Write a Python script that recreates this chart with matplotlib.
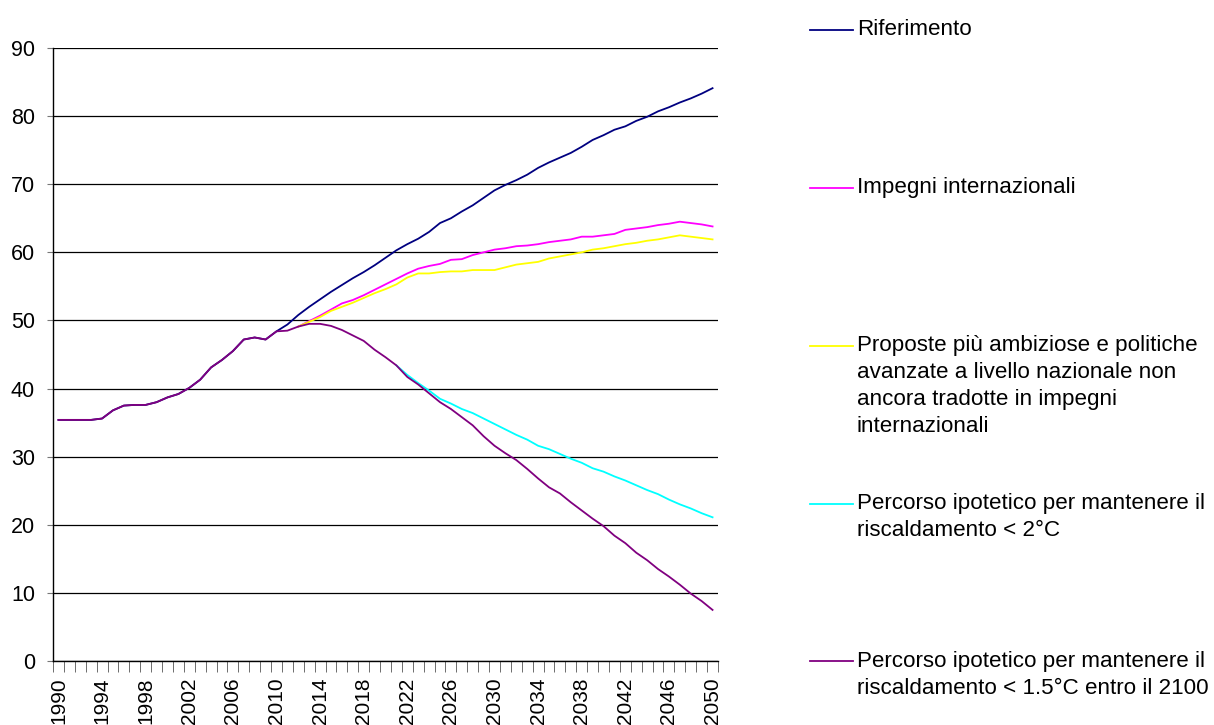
import matplotlib
matplotlib.use('Agg')
from matplotlib import pyplot as plt
from matplotlib.lines import Line2D

plt.rcParams['font.family'] = ['Liberation Sans', 'DejaVu Sans']

years = list(range(1990, 2051))

# storico comune 1990-2010
history = [35.4, 35.4, 35.4, 35.4, 35.6, 36.8, 37.5, 37.6, 37.6, 38.0,
           38.7, 39.2, 40.1, 41.3, 43.1, 44.2, 45.5, 47.2, 47.5, 47.2,
           48.4]

riferimento = history + [
    49.4, 50.8, 52.0, 53.1, 54.2, 55.2, 56.2, 57.1, 58.1, 59.2,
    60.3, 61.2, 62.0, 63.0, 64.3, 65.0, 66.0, 66.9, 68.0, 69.1,
    69.9, 70.6, 71.4, 72.4, 73.2, 73.9, 74.6, 75.5, 76.5, 77.2,
    78.0, 78.5, 79.3, 79.9, 80.7, 81.3, 82.0, 82.6, 83.3, 84.1]

# scenario 1.5 gradi (include storico fino al 2012)
percorso_15 = history + [
    48.5, 49.1, 49.5, 49.5, 49.2, 48.6, 47.8, 47.0, 45.7, 44.6,
    43.4, 41.7, 40.6, 39.3, 38.0, 37.0, 35.8, 34.6, 33.0, 31.6,
    30.5, 29.5, 28.2, 26.8, 25.5, 24.6, 23.3, 22.1, 20.9, 19.8,
    18.4, 17.3, 15.9, 14.8, 13.5, 12.4, 11.2, 9.9, 8.8, 7.5]

years_imp = list(range(2012, 2051))
impegni = [49.1, 49.9, 50.7, 51.6, 52.5, 53.0, 53.7, 54.5, 55.3, 56.1,
           56.9, 57.6, 58.0, 58.3, 58.9, 59.0, 59.6, 60.0, 60.4, 60.6,
           60.9, 61.0, 61.2, 61.5, 61.7, 61.9, 62.3, 62.3, 62.5, 62.7,
           63.3, 63.5, 63.7, 64.0, 64.2, 64.5, 64.3, 64.1, 63.8]
proposte = [49.1, 49.8, 50.5, 51.4, 52.0, 52.6, 53.3, 54.0, 54.6, 55.3,
            56.3, 56.9, 56.9, 57.1, 57.2, 57.2, 57.4, 57.4, 57.4, 57.8,
            58.2, 58.4, 58.6, 59.1, 59.4, 59.7, 60.0, 60.4, 60.6, 60.9,
            61.2, 61.4, 61.7, 61.9, 62.2, 62.5, 62.3, 62.1, 61.9]

years_2c = list(range(2021, 2051))
percorso_2 = [43.4, 42.0, 40.8, 39.7, 38.5, 37.8, 37.0, 36.4, 35.6, 34.8,
              34.0, 33.2, 32.5, 31.6, 31.1, 30.4, 29.7, 29.1, 28.3, 27.8,
              27.1, 26.5, 25.8, 25.1, 24.5, 23.7, 23.0, 22.4, 21.7, 21.1]

labels = ['Riferimento',
          'Impegni internazionali',
          'Proposte più ambiziose e politiche\navanzate a livello nazionale non\nancora tradotte in impegni\ninternazionali',
          'Percorso ipotetico per mantenere il\nriscaldamento < 2°C',
          'Percorso ipotetico per mantenere il\nriscaldamento < 1.5°C entro il 2100']
colors = ['#000080', '#FF00FF', '#FFFF00', '#00FFFF', '#800080']

fig = plt.figure(figsize=(12.14, 7.25), dpi=100)
ax = fig.add_axes([53 / 1214, 64 / 725, 665 / 1214, 613 / 725])

ax.plot(years, riferimento, color=colors[0], lw=1.3)
ax.plot(years_imp, impegni, color=colors[1], lw=1.3)
ax.plot(years_imp, proposte, color=colors[2], lw=1.3)
ax.plot(years_2c, percorso_2, color=colors[3], lw=1.3)
ax.plot(years, percorso_15, color=colors[4], lw=1.3)

ax.set_xlim(1989.5, 2050.5)
ax.set_ylim(0, 90)
ax.set_yticks(range(0, 91, 10))
ax.yaxis.grid(True, color='black', lw=0.9)
ax.set_axisbelow(True)
for s in ['top', 'right']:
    ax.spines[s].set_visible(False)
ax.spines['left'].set_linewidth(1)
ax.spines['bottom'].set_linewidth(1)

ax.set_xticks([y + 0.5 for y in range(1989, 2051)], minor=True)
ax.set_xticks(range(1990, 2051, 4))
ax.set_xticklabels([str(y) for y in range(1990, 2051, 4)], rotation=90)
ax.tick_params(axis='x', which='major', length=0, pad=12, labelsize=15)
ax.tick_params(axis='x', which='minor', length=8, color='#555555')
ax.tick_params(axis='y', length=4.5, labelsize=15.5, pad=8.5, color='#777777')

# legenda a destra, una riga di testo alla volta
leg_y = [29.5, 188, 346, 504, 661]
for lab, col, yp in zip(labels, colors, leg_y):
    fy = 1 - yp / 725
    fig.add_artist(Line2D([810 / 1214, 853 / 1214], [fy, fy], color=col, lw=1.3))
    for k, riga in enumerate(lab.split('\n')):
        fig.text(857 / 1214, 1 - (yp + 5.5 + 27 * k) / 725, riga,
                 fontsize=16.1, ha='left', va='baseline')

fig.savefig('out.png', dpi=100)
